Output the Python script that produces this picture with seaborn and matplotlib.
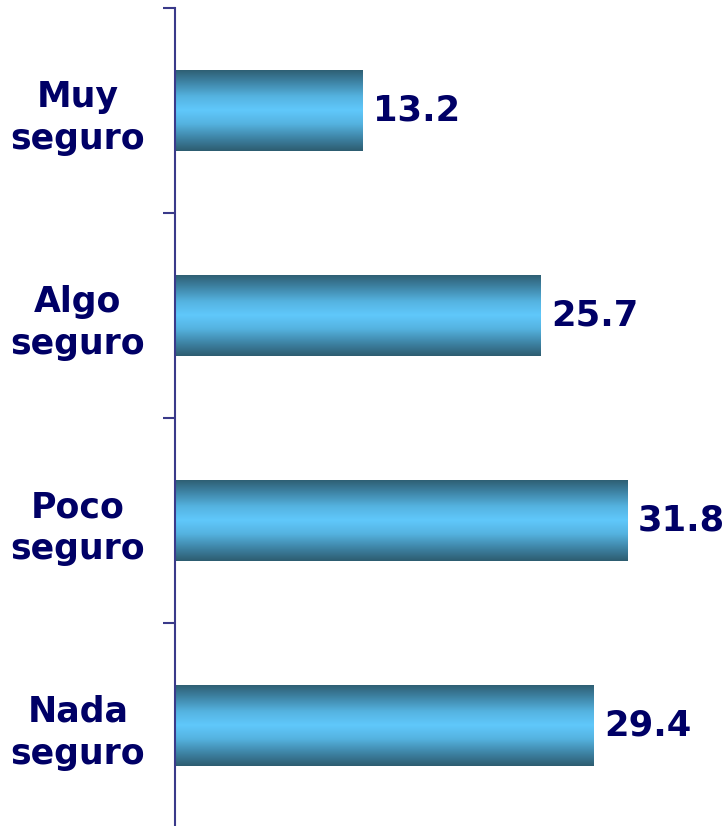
import numpy as np
import pandas as pd
import matplotlib
matplotlib.use("Agg")
import matplotlib.pyplot as plt
import seaborn as sns
from matplotlib.colors import LinearSegmentedColormap

# Data
categories = ["Muy\nseguro", "Algo\nseguro", "Poco\nseguro", "Nada\nseguro"]
values = [13.2, 25.7, 31.8, 29.4]

navy = "#000066"
axis_color = "#3a3a8a"

df = pd.DataFrame({"categoria": categories, "valor": values})

sns.set_style("white")
plt.rcParams["font.family"] = ["DejaVu Sans"]

fig = plt.figure(figsize=(7.24, 8.26), dpi=100)
ax = fig.add_axes([175 / 724, -2 / 826, 549 / 724, 820 / 826])

sns.barplot(data=df, x="valor", y="categoria", orient="h", width=0.4,
            color="#5fc8fa", ax=ax)

# cylinder-like vertical gradient on each bar
cmap = LinearSegmentedColormap.from_list(
    "bar", ["#2d5c70", "#3f86a8", "#55b3e0", "#60c8fb", "#55b3e0", "#3f86a8", "#2d5c70"])
grad = np.linspace(0, 1, 256).reshape(-1, 1)
for patch in ax.patches:
    x0, y0 = patch.get_x(), patch.get_y()
    w, h = patch.get_width(), patch.get_height()
    patch.set_facecolor("none")
    patch.set_edgecolor("none")
    im = ax.imshow(grad, cmap=cmap, aspect="auto", extent=[x0, x0 + w, y0 + h, y0],
                   zorder=2, interpolation="bicubic")
    im.set_clip_path(patch)
    ax.text(x0 + w + 0.75, y0 + h / 2, f"{w:.1f}", va="center", ha="left",
            fontsize=25.5, fontweight="bold", color=navy, zorder=3)

ax.set_xlim(0, 38.6)
ax.set_ylim(3.5, -0.5)
ax.set_xlabel("")
ax.set_ylabel("")
ax.set_xticks([])

# labels at bar centres, tick marks at category boundaries
ax.set_yticks(range(len(categories)))
ax.set_yticklabels(categories, fontsize=25, fontweight="bold", color=navy,
                   multialignment="center", linespacing=1.3)
ax.set_yticks([-0.5, 0.5, 1.5, 2.5], minor=True)
ax.tick_params(axis="y", which="major", length=0, pad=21.5)
ax.tick_params(axis="y", which="minor", length=8.5, width=1.5, color=axis_color,
               direction="out", left=True)

for side in ["top", "right", "bottom"]:
    ax.spines[side].set_visible(False)
ax.spines["left"].set_color(axis_color)
ax.spines["left"].set_linewidth(1.5)
ax.spines["left"].set_zorder(4)

fig.savefig("out.png", dpi=100)
